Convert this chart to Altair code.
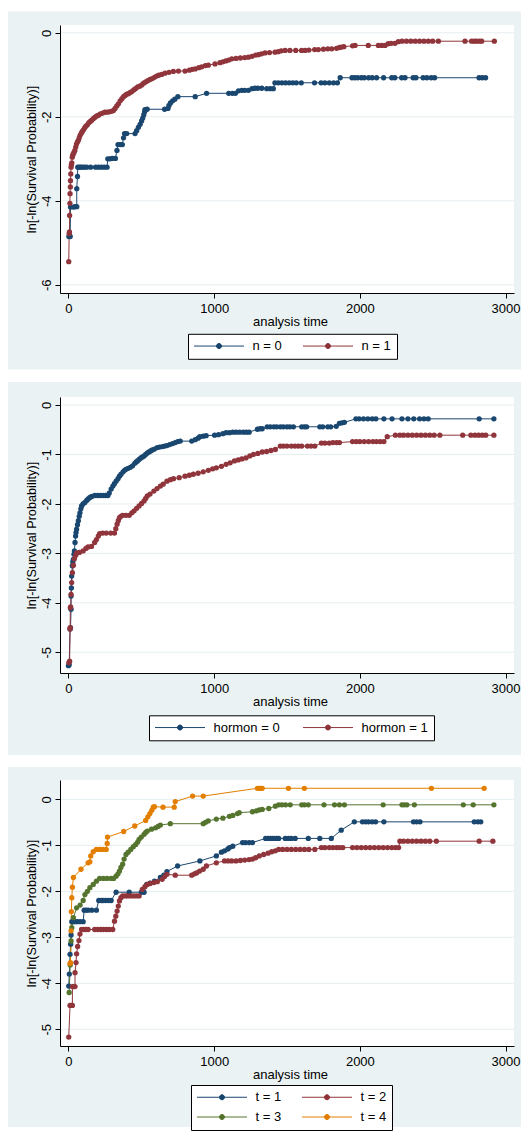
import altair as alt
import pandas as pd

# ---------------- data ----------------
X_TICKS = [0, 1000, 2000, 3000]

# Panel 1 : n
P1_LABELS = ["n = 0", "n = 1"]
P1_YTICKS = [0, -2, -4, -6]
P1_N0_T = [3, 12, 14, 35, 45, 57, 57, 62, 64, 73,
           85, 95, 110, 125, 152, 186, 205, 225, 245, 265,
           270, 285, 300, 322, 333, 340, 355, 370, 378, 385,
           400, 457, 468, 480, 492, 502, 510, 517, 523, 525,
           540, 660, 683, 690, 700, 715, 730, 751, 870, 948,
           1100, 1125, 1146, 1167, 1190, 1210, 1235, 1260, 1280, 1300,
           1327, 1361, 1385, 1406, 1417, 1440, 1465, 1490, 1515, 1540,
           1564, 1598, 1689, 1734, 1760, 1790, 1820, 1846, 1865, 1946,
           1965, 1985, 2010, 2030, 2060, 2085, 2115, 2163, 2219, 2240,
           2287, 2310, 2366, 2385, 2434, 2460, 2490, 2513, 2818, 2840,
           2863]
P1_N0_V = [-4.85, -4.85, -4.15, -4.15, -4.14, -4.14, -3.71, -3.42, -3.2, -3.2,
           -3.2, -3.2, -3.2, -3.2, -3.2, -3.2, -3.2, -3.2, -3.2, -3.2,
           -3.0, -3.0, -2.99, -2.99, -2.8, -2.66, -2.66, -2.66, -2.5, -2.4,
           -2.4, -2.4, -2.33, -2.25, -2.18, -2.1, -2.03, -1.95, -1.88, -1.83,
           -1.82, -1.82, -1.8, -1.73, -1.67, -1.62, -1.58, -1.52, -1.52, -1.44,
           -1.44, -1.44, -1.44, -1.38, -1.37, -1.37, -1.37, -1.33, -1.32, -1.32,
           -1.32, -1.33, -1.33, -1.33, -1.19, -1.19, -1.19, -1.19, -1.19, -1.19,
           -1.19, -1.19, -1.19, -1.19, -1.19, -1.19, -1.19, -1.19, -1.07, -1.07,
           -1.07, -1.07, -1.07, -1.07, -1.07, -1.07, -1.07, -1.07, -1.07, -1.07,
           -1.07, -1.07, -1.07, -1.07, -1.07, -1.07, -1.07, -1.07, -1.07, -1.07,
           -1.07]
P1_N1_T = [2, 5, 7, 8, 10, 11, 13, 14, 16, 18,
           20, 23, 26, 29, 33, 38, 44, 50, 55, 62,
           68, 74, 80, 88, 95, 103, 112, 120, 130, 140,
           150, 160, 172, 183, 195, 206, 220, 235, 250, 265,
           280, 295, 309, 320, 332, 343, 355, 367, 378, 389,
           400, 412, 424, 435, 448, 460, 475, 490, 503, 516,
           530, 545, 560, 575, 590, 605, 620, 640, 663, 690,
           720, 755, 800, 830, 850, 870, 895, 915, 940, 960,
           1006, 1040, 1060, 1080, 1100, 1121, 1150, 1180, 1210, 1235,
           1260, 1285, 1304, 1325, 1349, 1380, 1418, 1440, 1460, 1487,
           1520, 1560, 1600, 1624, 1650, 1690, 1715, 1750, 1780, 1807,
           1840, 1860, 1875, 1890, 1950, 1967, 2058, 2127, 2150, 2173,
           2195, 2215, 2241, 2264, 2290, 2320, 2350, 2380, 2410, 2440,
           2470, 2500, 2539, 2722, 2767, 2785, 2800, 2820, 2836, 2923]
P1_N1_V = [-5.45, -4.78, -4.74, -4.35, -4.06, -3.83, -3.67, -3.52, -3.36, -3.2,
           -3.14, -3.1, -2.96, -2.92, -2.88, -2.85, -2.8, -2.72, -2.65, -2.6,
           -2.56, -2.5, -2.44, -2.39, -2.35, -2.31, -2.26, -2.22, -2.19, -2.14,
           -2.11, -2.08, -2.04, -2.01, -1.98, -1.96, -1.93, -1.91, -1.89, -1.89,
           -1.88, -1.87, -1.85, -1.8, -1.74, -1.69, -1.62, -1.57, -1.52, -1.49,
           -1.46, -1.45, -1.42, -1.4, -1.36, -1.33, -1.29, -1.27, -1.24, -1.2,
           -1.17, -1.14, -1.11, -1.09, -1.06, -1.03, -1.01, -0.99, -0.96, -0.94,
           -0.92, -0.91, -0.91, -0.89, -0.87, -0.86, -0.83, -0.81, -0.78, -0.77,
           -0.74, -0.71, -0.69, -0.67, -0.65, -0.62, -0.61, -0.6, -0.59, -0.58,
           -0.56, -0.53, -0.52, -0.5, -0.48, -0.47, -0.46, -0.45, -0.43, -0.42,
           -0.42, -0.42, -0.42, -0.42, -0.41, -0.4, -0.4, -0.39, -0.38, -0.38,
           -0.37, -0.35, -0.34, -0.33, -0.31, -0.3, -0.3, -0.3, -0.3, -0.3,
           -0.26, -0.25, -0.25, -0.21, -0.2, -0.2, -0.2, -0.2, -0.2, -0.2,
           -0.2, -0.2, -0.2, -0.2, -0.2, -0.2, -0.2, -0.2, -0.2, -0.2]

# Panel 2 : hormon
P2_LABELS = ["hormon = 0", "hormon = 1"]
P2_YTICKS = [0, -1, -2, -3, -4, -5]
P2_H0_T = [0, 5, 11, 14, 18, 18, 20, 22, 27, 30,
           34, 38, 41, 45, 49, 52, 56, 62, 68, 74,
           79, 85, 90, 100, 113, 125, 135, 147, 160, 181,
           200, 220, 240, 255, 271, 280, 293, 305, 315, 327,
           340, 350, 361, 375, 385, 395, 410, 425, 440, 455,
           465, 474, 485, 497, 508, 519, 530, 542, 553, 564,
           575, 590, 609, 625, 645, 660, 676, 695, 715, 733,
           750, 767, 846, 870, 890, 902, 925, 945, 1003, 1030,
           1060, 1082, 1105, 1128, 1150, 1175, 1200, 1220, 1240, 1297,
           1315, 1330, 1364, 1385, 1410, 1430, 1455, 1475, 1500, 1520,
           1544, 1601, 1620, 1635, 1725, 1745, 1780, 1800, 1838, 1860,
           1878, 1894, 1973, 1995, 2025, 2055, 2085, 2110, 2165, 2221,
           2289, 2330, 2370, 2410, 2440, 2469, 2819, 2920]
P2_H0_V = [-5.27, -5.25, -4.53, -4.5, -4.13, -3.86, -3.7, -3.46, -3.25, -3.17,
           -3.12, -3.02, -2.95, -2.78, -2.65, -2.58, -2.51, -2.42, -2.34, -2.25,
           -2.18, -2.1, -2.04, -2.0, -1.97, -1.93, -1.9, -1.87, -1.85, -1.83,
           -1.83, -1.83, -1.83, -1.83, -1.83, -1.78, -1.7, -1.64, -1.59, -1.54,
           -1.49, -1.44, -1.4, -1.35, -1.32, -1.3, -1.28, -1.26, -1.23, -1.18,
           -1.15, -1.13, -1.1, -1.07, -1.05, -1.03, -1.0, -0.97, -0.95, -0.93,
           -0.91, -0.89, -0.86, -0.85, -0.84, -0.83, -0.82, -0.8, -0.78, -0.76,
           -0.74, -0.73, -0.73, -0.7, -0.67, -0.64, -0.63, -0.62, -0.61, -0.6,
           -0.58, -0.56, -0.56, -0.55, -0.55, -0.55, -0.55, -0.55, -0.55, -0.49,
           -0.48, -0.48, -0.44, -0.44, -0.44, -0.44, -0.44, -0.44, -0.44, -0.44,
           -0.44, -0.44, -0.44, -0.44, -0.44, -0.44, -0.44, -0.44, -0.43, -0.37,
           -0.36, -0.35, -0.28, -0.28, -0.28, -0.28, -0.28, -0.28, -0.28, -0.28,
           -0.28, -0.28, -0.28, -0.28, -0.28, -0.28, -0.28, -0.28]
P2_H1_T = [3, 8, 11, 12, 13, 15, 18, 22, 27, 34,
           41, 50, 56, 75, 101, 120, 135, 158, 180, 192,
           205, 214, 235, 259, 290, 316, 325, 334, 342, 350,
           360, 372, 395, 417, 435, 451, 468, 485, 502, 519,
           530, 541, 560, 586, 608, 631, 650, 676, 700, 721,
           760, 800, 830, 857, 890, 925, 960, 990, 1015, 1050,
           1082, 1110, 1139, 1165, 1190, 1218, 1245, 1270, 1300, 1330,
           1360, 1390, 1420, 1454, 1475, 1500, 1530, 1555, 1578, 1601,
           1640, 1665, 1691, 1736, 1760, 1790, 1815, 1840, 1860, 1950,
           1975, 2000, 2030, 2060, 2090, 2115, 2140, 2165, 2188, 2244,
           2275, 2300, 2330, 2360, 2390, 2420, 2450, 2480, 2510, 2549,
           2706, 2762, 2790, 2815, 2840, 2864, 2920]
P2_H1_V = [-5.21, -5.18, -4.53, -4.5, -4.1, -4.08, -3.83, -3.59, -3.39, -3.24,
           -3.11, -3.04, -2.99, -2.98, -2.95, -2.9, -2.87, -2.86, -2.78, -2.72,
           -2.65, -2.6, -2.59, -2.59, -2.59, -2.59, -2.5, -2.41, -2.34, -2.28,
           -2.25, -2.23, -2.23, -2.23, -2.18, -2.14, -2.09, -2.04, -1.99, -1.94,
           -1.89, -1.84, -1.8, -1.74, -1.69, -1.64, -1.6, -1.54, -1.51, -1.49,
           -1.47, -1.44, -1.42, -1.4, -1.38, -1.35, -1.32, -1.29, -1.27, -1.24,
           -1.2, -1.17, -1.13, -1.11, -1.09, -1.07, -1.03, -1.0, -0.98, -0.95,
           -0.94, -0.92, -0.9, -0.83, -0.83, -0.83, -0.83, -0.83, -0.83, -0.83,
           -0.83, -0.83, -0.83, -0.77, -0.77, -0.77, -0.76, -0.76, -0.76, -0.74,
           -0.74, -0.74, -0.74, -0.74, -0.74, -0.74, -0.74, -0.74, -0.64, -0.61,
           -0.61, -0.61, -0.61, -0.61, -0.61, -0.61, -0.61, -0.61, -0.61, -0.61,
           -0.61, -0.61, -0.61, -0.61, -0.61, -0.61, -0.61]

# Panel 3 : t
P3_LABELS = ["t = 1", "t = 2", "t = 3", "t = 4"]
P3_YTICKS = [0, -1, -2, -3, -4, -5]
P3_T1_T = [2, 6, 11, 15, 18, 23, 35, 45, 60, 80,
           101, 108, 120, 135, 160, 192, 208, 225, 237, 255,
           275, 293, 327, 417, 500, 519, 537, 560, 590, 631,
           655, 676, 749, 902, 1015, 1050, 1071, 1094, 1105, 1128,
           1195, 1215, 1240, 1263, 1353, 1370, 1385, 1400, 1415, 1430,
           1443, 1488, 1510, 1530, 1556, 1646, 1725, 1804, 1872, 1962,
           2018, 2040, 2060, 2085, 2108, 2165, 2368, 2390, 2413, 2785,
           2810, 2830]
P3_T1_V = [-4.06, -3.8, -3.37, -3.15, -2.95, -2.66, -2.66, -2.66, -2.66, -2.66,
           -2.66, -2.41, -2.41, -2.41, -2.41, -2.41, -2.2, -2.2, -2.2, -2.2,
           -2.2, -2.2, -2.02, -2.02, -2.02, -2.02, -1.85, -1.82, -1.78, -1.7,
           -1.65, -1.57, -1.45, -1.34, -1.23, -1.15, -1.12, -1.08, -1.05, -1.02,
           -0.94, -0.94, -0.94, -0.94, -0.85, -0.85, -0.85, -0.85, -0.85, -0.85,
           -0.85, -0.85, -0.85, -0.85, -0.85, -0.85, -0.85, -0.85, -0.67, -0.49,
           -0.49, -0.49, -0.49, -0.49, -0.49, -0.49, -0.49, -0.49, -0.49, -0.49,
           -0.49, -0.49]
P3_T2_T = [2, 11, 20, 27, 27, 36, 45, 45, 52, 56,
           63, 72, 79, 90, 105, 120, 135, 180, 200, 220,
           240, 260, 280, 304, 316, 325, 334, 342, 350, 360,
           372, 390, 406, 425, 445, 465, 485, 507, 525, 541,
           560, 586, 610, 643, 660, 676, 733, 846, 865, 879,
           900, 925, 947, 1015, 1071, 1095, 1120, 1150, 1180, 1210,
           1240, 1263, 1285, 1310, 1340, 1370, 1395, 1420, 1443, 1470,
           1500, 1530, 1560, 1590, 1620, 1650, 1691, 1736, 1760, 1790,
           1815, 1840, 1860, 1883, 1950, 1980, 2010, 2040, 2070, 2100,
           2130, 2160, 2190, 2220, 2245, 2266, 2275, 2300, 2330, 2360,
           2390, 2420, 2450, 2480, 2525, 2819, 2913]
P3_T2_V = [-5.17, -4.48, -4.48, -4.48, -4.07, -4.07, -4.07, -3.77, -3.55, -3.36,
           -3.2, -3.07, -2.93, -2.83, -2.83, -2.83, -2.83, -2.83, -2.83, -2.83,
           -2.83, -2.83, -2.83, -2.83, -2.65, -2.54, -2.43, -2.32, -2.21, -2.14,
           -2.1, -2.1, -2.1, -2.1, -2.1, -2.1, -2.1, -1.96, -1.9, -1.85,
           -1.83, -1.81, -1.79, -1.74, -1.68, -1.63, -1.65, -1.65, -1.62, -1.6,
           -1.56, -1.52, -1.45, -1.38, -1.34, -1.34, -1.34, -1.34, -1.33, -1.32,
           -1.31, -1.3, -1.27, -1.23, -1.2, -1.17, -1.14, -1.12, -1.09, -1.09,
           -1.09, -1.09, -1.09, -1.09, -1.09, -1.09, -1.09, -1.05, -1.05, -1.05,
           -1.05, -1.05, -1.05, -1.05, -1.05, -1.05, -1.05, -1.05, -1.05, -1.05,
           -1.05, -1.05, -1.05, -1.05, -1.05, -1.05, -0.91, -0.91, -0.91, -0.91,
           -0.91, -0.91, -0.91, -0.91, -0.91, -0.91, -0.91]
P3_T3_T = [5, 12, 18, 23, 34, 56, 80, 101, 113, 130,
           147, 170, 192, 214, 240, 265, 293, 310, 327, 340,
           350, 360, 372, 382, 395, 410, 428, 445, 462, 475,
           485, 500, 519, 530, 541, 570, 598, 615, 631, 699,
           925, 941, 959, 1015, 1060, 1105, 1128, 1160, 1172, 1263,
           1290, 1310, 1330, 1375, 1420, 1443, 1465, 1490, 1522, 1601,
           1620, 1646, 1754, 1826, 1860, 1894, 2160, 2289, 2305, 2323,
           2374, 2710, 2778, 2920]
P3_T3_V = [-4.2, -3.6, -3.08, -2.79, -2.57, -2.36, -2.3, -2.2, -2.07, -2.0,
           -1.92, -1.85, -1.78, -1.72, -1.72, -1.72, -1.72, -1.72, -1.67, -1.62,
           -1.56, -1.48, -1.41, -1.3, -1.2, -1.15, -1.09, -1.03, -0.98, -0.93,
           -0.87, -0.82, -0.76, -0.72, -0.69, -0.65, -0.62, -0.59, -0.56, -0.53,
           -0.53, -0.5, -0.47, -0.43, -0.41, -0.37, -0.35, -0.31, -0.29, -0.27,
           -0.25, -0.23, -0.22, -0.2, -0.15, -0.12, -0.12, -0.12, -0.12, -0.12,
           -0.12, -0.12, -0.12, -0.12, -0.12, -0.12, -0.12, -0.12, -0.12, -0.12,
           -0.12, -0.12, -0.12, -0.12]
P3_T4_T = [11, 14, 18, 20, 23, 27, 34, 86, 135, 147,
           153, 170, 192, 215, 235, 259, 266, 268, 379, 455,
           530, 545, 559, 572, 582, 590, 649, 726, 733, 852,
           925, 1297, 1310, 1320, 1330, 1510, 1619, 2491, 2853]
P3_T4_V = [-3.57, -3.55, -2.86, -2.44, -2.14, -1.91, -1.7, -1.52, -1.38, -1.36,
           -1.23, -1.14, -1.09, -1.09, -1.09, -1.09, -0.96, -0.82, -0.7, -0.58,
           -0.46, -0.38, -0.31, -0.24, -0.17, -0.16, -0.17, -0.17, -0.05, 0.07,
           0.07, 0.24, 0.24, 0.24, 0.24, 0.24, 0.24, 0.24, 0.24]

# ---------------- style ----------------
NAVY, MAROON, GREEN, ORANGE = "#1a476f", "#90353b", "#55752f", "#e37e00"
BG = "#eaf2f3"
GRID = "#e6eef0"
FONT = "Liberation Sans"
W = 454
X_DOMAIN = [-58, 3058]
# legend key: a line with a dot in the middle (dot = concentric rings)
LEG_PATH = "M-1,0L1,0" + "".join(
    f"M{r},0A{r},{r},0,1,1,-{r},0A{r},{r},0,1,1,{r},0"
    for r in [0.02, 0.04, 0.06, 0.08, 0.1])


def make_panel(series, labels, colors, ydom, yticks, h, bg_top, bg_bot,
               leg_x, leg_y, col_pad):
    rows = []
    for lab, (ts, vs) in zip(labels, series):
        for i, (t, v) in enumerate(zip(ts, vs, strict=True)):
            rows.append({"t": t, "v": v, "g": lab, "i": i})
    df = pd.DataFrame(rows)

    xs = alt.Scale(domain=X_DOMAIN, nice=False, zero=False)
    ys = alt.Scale(domain=ydom, nice=False, zero=False)
    xaxis = alt.Axis(values=X_TICKS, title="analysis time", grid=False,
                     labelExpr="'' + datum.value", labelFlush=False,
                     labelFont=FONT, labelFontSize=13, labelColor="black",
                     titleFont=FONT, titleFontSize=13, titleColor="black",
                     titleFontWeight="normal", domainColor="black",
                     tickColor="black", tickSize=5, labelPadding=4,
                     titleX=W / 2 + 3, titleY=28, titleBaseline="middle",
                     titleAlign="center", zindex=1)
    yaxis = alt.Axis(values=yticks, title="ln[-ln(Survival Probability)]",
                     grid=False, labelExpr="'' + datum.value",
                     labelAngle=270, labelAlign="center",
                     labelBaseline="alphabetic", labelPadding=5,
                     labelFont=FONT, labelFontSize=13, labelColor="black",
                     titleFont=FONT, titleFontSize=12.7, titleColor="black",
                     titleFontWeight="normal", domainColor="black",
                     tickColor="black", tickSize=5,
                     titleAngle=270, titleX=-28.5, titleY=h / 2,
                     titleAlign="center", titleBaseline="middle", zindex=1)

    one = pd.DataFrame({"k": [0]})
    bg = alt.Chart(one).mark_rect(color=BG).encode(
        x=alt.value(-52), x2=alt.value(W + 7),
        y=alt.value(bg_top), y2=alt.value(h + bg_bot))
    plot_bg = alt.Chart(one).mark_rect(color="white").encode(
        x=alt.value(0), x2=alt.value(W), y=alt.value(0), y2=alt.value(h))
    grid = alt.Chart(pd.DataFrame({"v": yticks})).mark_rule(
        color=GRID, strokeWidth=1).encode(
        y=alt.Y("v:Q", scale=ys, axis=yaxis),
        x=alt.value(0), x2=alt.value(W))

    cscale = alt.Scale(domain=labels, range=colors)
    leg = alt.Legend(title=None, orient="none", legendX=leg_x, legendY=leg_y,
                     direction="horizontal", columns=2,
                     symbolType=LEG_PATH, symbolSize=2500,
                     symbolStrokeWidth=1, symbolOpacity=1, clipHeight=13,
                     labelFont=FONT, labelFontSize=13, labelColor="black",
                     fillColor="white", strokeColor="black", padding=5.5,
                     columnPadding=col_pad, rowPadding=6, labelOffset=8)

    line = alt.Chart(df).mark_line(strokeWidth=1).encode(
        x=alt.X("t:Q", scale=xs, axis=xaxis),
        y=alt.Y("v:Q", scale=ys, axis=yaxis),
        color=alt.Color("g:N", scale=cscale, legend=leg),
        order=alt.Order("i:Q"))
    pts = alt.Chart(df).mark_point(filled=True, size=28, opacity=1).encode(
        x=alt.X("t:Q", scale=xs, axis=xaxis),
        y=alt.Y("v:Q", scale=ys, axis=yaxis),
        fill=alt.Fill("g:N", scale=cscale, legend=None))
    return alt.layer(bg, plot_bg, grid, line, pts).properties(width=W, height=h)


p1 = make_panel([(P1_N0_T, P1_N0_V), (P1_N1_T, P1_N1_V)], P1_LABELS,
                [NAVY, MAROON], [-6.195, 0.186], P1_YTICKS, 268,
                -13.5, 76.5, 128, 308.8, 20)
p2 = make_panel([(P2_H0_T, P2_H0_V), (P2_H1_T, P2_H1_V)], P2_LABELS,
                [NAVY, MAROON], [-5.419, 0.162], P2_YTICKS, 276,
                -15, 82, 89, 318.3, 22)
p3 = make_panel([(P3_T1_T, P3_T1_V), (P3_T2_T, P3_T2_V),
                 (P3_T3_T, P3_T3_V), (P3_T4_T, P3_T4_V)], P3_LABELS,
                [NAVY, MAROON, GREEN, ORANGE], [-5.363, 0.42], P3_YTICKS, 266,
                -13, 81, 131, 305, 20)

chart = alt.vconcat(p1, p2, p3, spacing=12).resolve_scale(
    color="independent", fill="independent", stroke="independent",
    x="independent", y="independent").resolve_legend(
    color="independent", fill="independent").properties(
    padding={"left": 0, "top": 3, "right": 0, "bottom": 0},
    background="white").configure_view(stroke=None)

chart.save("out.html", embed_options={"renderer": "svg", "actions": False})
